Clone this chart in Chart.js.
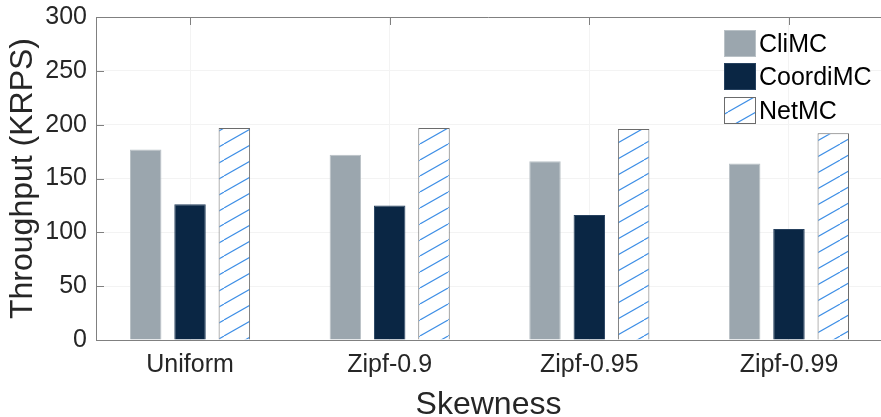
<!DOCTYPE html>
<html>
<head>
<meta charset="utf-8">
<script src="https://cdn.jsdelivr.net/npm/chart.js@4/dist/chart.umd.min.js"></script>
<style>
  html, body { margin: 0; padding: 0; background: #fff; }
  #wrap { width: 881px; height: 417px; position: relative; }
</style>
</head>
<body>
<div id="wrap"><canvas id="c"></canvas></div>
<script>
// 数据
var categories = ['Uniform', 'Zipf-0.9', 'Zipf-0.95', 'Zipf-0.99'];
var climc = [177, 172, 166, 164];
var coordimc = [126, 125, 116, 103];
var netmc = [197, 197, 196, 192];
var yTicks = [0, 50, 100, 150, 200, 250, 300];

var FONT = '"Liberation Sans", Arial, Helvetica, sans-serif';
var AXIS = '#808080';
var TEXT = '#262626';

// 斜线填充
function hatch() {
  var w = 28, h = 16;
  var cv = document.createElement('canvas');
  cv.width = w; cv.height = h;
  var g = cv.getContext('2d');
  g.fillStyle = '#fff';
  g.fillRect(0, 0, w, h);
  g.strokeStyle = '#3d8ee6';
  g.lineWidth = 1.1;
  for (var k = -1; k <= 1; k++) {
    g.beginPath();
    g.moveTo(k * w, h);
    g.lineTo(k * w + w, 0);
    g.stroke();
  }
  return g.createPattern(cv, 'repeat');
}

function pts(arr) {
  return arr.map(function (v, i) { return { x: i + 1, y: v }; });
}

// 图框、刻度、图例
var decor = {
  id: 'decor',
  afterDatasetsDraw: function (chart) {
    var ctx = chart.ctx, a = chart.chartArea;
    var xs = chart.scales.x, ys = chart.scales.y;
    ctx.save();
    ctx.strokeStyle = AXIS;
    ctx.lineWidth = 1;
    ctx.beginPath();
    ctx.moveTo(a.left, a.top + 0.5);
    ctx.lineTo(a.right, a.top + 0.5);
    yTicks.forEach(function (v) {
      var y = Math.round(ys.getPixelForValue(v)) + 0.5;
      ctx.moveTo(a.left, y);
      ctx.lineTo(a.left + 8, y);
    });
    categories.forEach(function (c, i) {
      var x = Math.round(xs.getPixelForValue(i + 1)) + 0.5;
      ctx.moveTo(x, a.top);
      ctx.lineTo(x, a.top + 8);
    });
    ctx.stroke();

    // 图例
    var lx = 724, ly = 30, pitch = 33.3;
    ctx.font = '25px ' + FONT;
    ctx.textBaseline = 'middle';
    ctx.textAlign = 'left';
    chart.data.datasets.forEach(function (ds, i) {
      var y = Math.round(ly + i * pitch);
      ctx.fillStyle = ds.backgroundColor;
      ctx.fillRect(lx, y, 32, 27);
      ctx.strokeStyle = ds.borderColor;
      ctx.strokeRect(lx + 0.5, y + 0.5, 31, 26);
      ctx.fillStyle = '#000';
      ctx.fillText(ds.label, lx + 35, y + 15);
    });
    ctx.restore();
  }
};

var pattern = hatch();

new Chart(document.getElementById('c'), {
  type: 'bar',
  data: {
    datasets: [
      { label: 'CliMC', data: pts(climc), backgroundColor: '#9ba6ae', borderColor: '#b9c1c6', borderWidth: 1 },
      { label: 'CoordiMC', data: pts(coordimc), backgroundColor: '#0a2644', borderColor: '#26415f', borderWidth: 1 },
      { label: 'NetMC', data: pts(netmc), backgroundColor: pattern, borderColor: '#6b6b6b', borderWidth: 1 }
    ]
  },
  options: {
    responsive: true,
    maintainAspectRatio: false,
    animation: false,
    devicePixelRatio: 1,
    categoryPercentage: 0.666,
    barPercentage: 0.71,
    layout: { padding: { top: 17, right: 0, left: 0, bottom: 0 } },
    plugins: { legend: { display: false }, tooltip: { enabled: false } },
    scales: {
      x: {
        type: 'linear',
        offset: false,
        min: 0.529,
        max: 4.461,
        afterBuildTicks: function (axis) {
          axis.ticks = categories.map(function (c, i) { return { value: i + 1 }; });
        },
        afterFit: function (axis) { axis.height = 77; },
        ticks: {
          color: TEXT,
          font: { family: FONT, size: 25 },
          padding: 10,
          maxRotation: 0,
          autoSkip: false,
          callback: function (v) { return categories[v - 1]; }
        },
        grid: { color: '#f3f3f3', drawTicks: false, offset: false },
        border: { color: AXIS, width: 1 },
        title: {
          display: true,
          text: 'Skewness',
          color: TEXT,
          font: { family: FONT, size: 32 },
          padding: { top: 0, bottom: -7 }
        }
      },
      y: {
        min: 0,
        max: 300,
        afterBuildTicks: function (axis) {
          axis.ticks = yTicks.map(function (v) { return { value: v }; });
        },
        afterFit: function (axis) {
          axis.width = 96;
          axis.paddingTop = 0;
        },
        ticks: {
          color: TEXT,
          font: { family: FONT, size: 25 },
          padding: 9
        },
        grid: { color: '#f3f3f3', drawTicks: false },
        border: { color: AXIS, width: 1 },
        title: {
          display: true,
          text: 'Throughput (KRPS)',
          color: TEXT,
          font: { family: FONT, size: 32 },
          padding: { top: 4, bottom: 0 }
        }
      }
    }
  },
  plugins: [decor]
});
</script>
</body>
</html>
